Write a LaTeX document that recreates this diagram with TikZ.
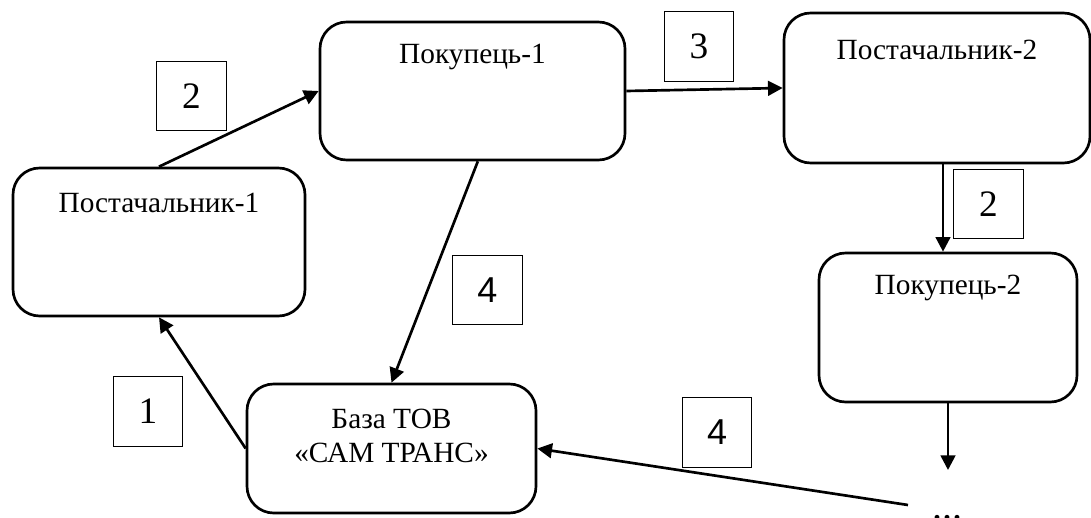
\documentclass[tikz,border=0pt]{standalone}
\usepackage{fontspec}
\setmainfont{Liberation Serif}
\newfontfamily\sansnum{Liberation Sans}
\usetikzlibrary{arrows.meta,positioning}

\begin{document}
\begin{tikzpicture}[x=0.75pt,y=-0.75pt,
    blok/.style 2 args={draw,line width=2pt,rounded corners=20pt,minimum width=#1,minimum height=#2,inner sep=0pt},
    tekst/.style={inner sep=0pt,align=center,font=\fontsize{22}{26}\selectfont},
    nomer/.style={draw,line width=0.9pt,minimum size=52pt,inner sep=0pt,font=\fontsize{28}{30}\selectfont},
    nomersans/.style={nomer,font=\sansnum\fontsize{27}{30}\selectfont},
    strel/.style={line width=2pt,-{Triangle[length=11pt,width=11pt]}}]
            \useasboundingbox (0,0) rectangle (1091,517);
            % bloky
            \node [blok={228.75pt}{103.5pt}] (pok1) at (472.5,91) {};
            \node [blok={229.5pt}{112.5pt}] (post2) at (937,88) {};
            \node [blok={219pt}{111pt}] (post1) at (159,242) {};
            \node [blok={193.5pt}{111.75pt}] (pok2) at (948,327.5) {};
            \node [blok={216.75pt}{96.75pt}] (baza) at (391.5,448.5) {};
            \node [tekst] (pok1t) at ([yshift=-27pt]pok1.north) {Покупець-1};
            \node [tekst] (post2t) at ([yshift=-29pt]post2.north) {Постачальник-2};
            \node [tekst] (post1t) at ([yshift=-27.5pt]post1.north) {Постачальник-1};
            \node [tekst] (pok2t) at ([yshift=-27.5pt]pok2.north) {Покупець-2};
            \node [tekst] (bazat) at ([yshift=-40pt]baza.north) {База ТОВ\\«САМ ТРАНС»};
            \node [tekst,anchor=base,font=\fontsize{30}{32}\selectfont] (dots) at (947,519) {...};
            \coordinate (dotsin) at (908,505);
            \coordinate (pok2end) at (948,470);
            % nomery
            \node [nomer] (n2a) at (191.5,96) {2};
            \node [nomer] (n3) at (699,46.5) {3};
            \node [nomer] (n2b) at (988.5,204) {2};
            \node [nomersans] (n4a) at (487.5,290) {4};
            \node [nomer] (n1) at (148,411.5) {1};
            \node [nomersans] (n4b) at (717,432.5) {4};
            % strilky
            \draw [strel] (post1.north) -- (pok1.west);
            \draw [strel] (pok1.east) -- (post2.west);
            \draw [strel] ([xshift=4.5pt]post2.south) -- ([xshift=-3.75pt]pok2.north);
            \draw [strel] ([xshift=4pt]pok1.south) -- (baza.north);
            \draw [strel] (baza.west) -- (post1.south);
            \draw [strel] (dotsin) -- (baza.east);
            \draw [strel] (pok2.south) -- (pok2end);
        \end{tikzpicture}
\end{document}
